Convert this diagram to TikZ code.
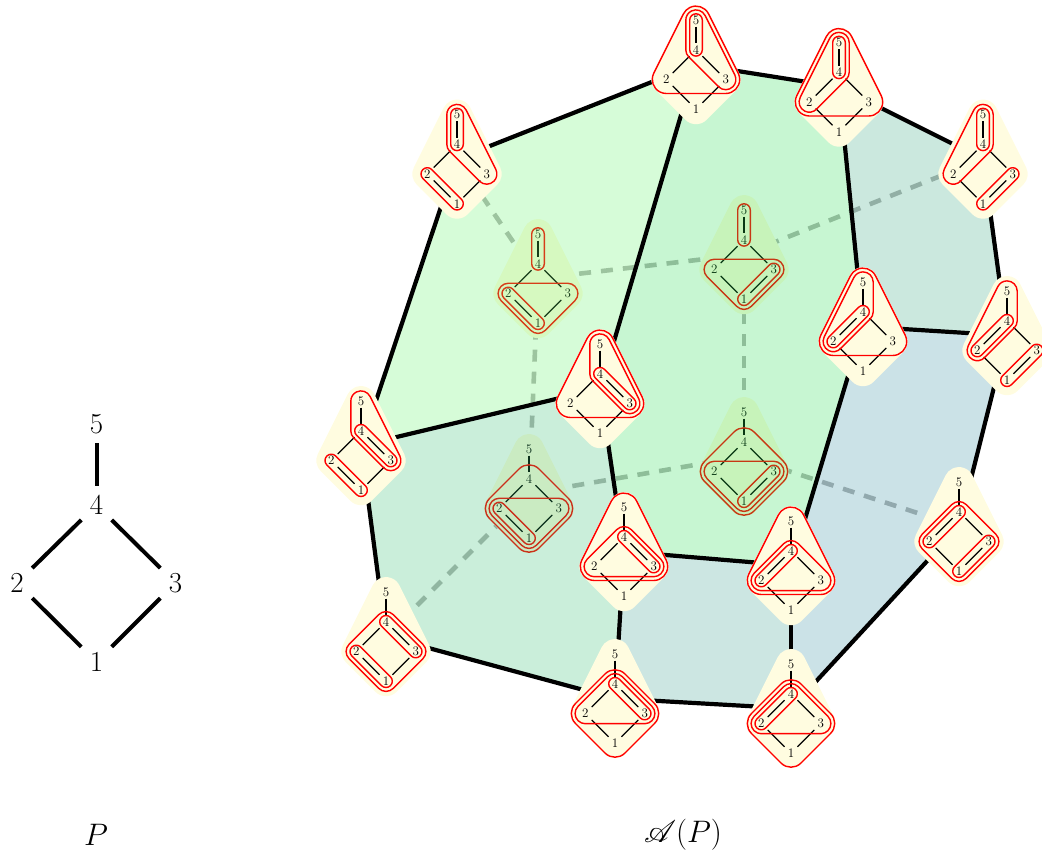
\documentclass[tikz,border=0pt]{standalone}
\usepackage{mathrsfs}
\usetikzlibrary{calc}
\definecolor{bgyellow}{HTML}{FFFCE0}
\definecolor{faceA}{RGB}{92,244,100}
\definecolor{faceB}{RGB}{32,220,76}
\definecolor{faceC}{RGB}{48,164,124}
\definecolor{faceD}{RGB}{48,140,160}
\definecolor{faceE}{RGB}{44,188,108}
\definecolor{faceF}{RGB}{52,156,140}
\definecolor{hiddenline}{HTML}{B4B4B4}
\newcommand\rA{6.3}
\newcommand\rB{10.2}
\newcommand\rC{14}
\newcommand\Vx[4]{($(-#1)+(#3:#2)$) arc[start angle=#3,end angle=#4,radius=#2]}
\newcommand\Ted[1]{\draw[tubeline] \Vx{5}{#1}{0}{180} -- \Vx{4}{#1}{180}{360} -- cycle;}
\newcommand\Tdc[1]{\draw[tubeline] \Vx{4}{#1}{45}{225} -- \Vx{3}{#1}{225}{405} -- cycle;}
\newcommand\Tdb[1]{\draw[tubeline] \Vx{4}{#1}{-45}{135} -- \Vx{2}{#1}{135}{315} -- cycle;}
\newcommand\Tca[1]{\draw[tubeline] \Vx{3}{#1}{-45}{135} -- \Vx{1}{#1}{135}{315} -- cycle;}
\newcommand\Tba[1]{\draw[tubeline] \Vx{2}{#1}{45}{225} -- \Vx{1}{#1}{225}{405} -- cycle;}
\newcommand\Tedc[1]{\draw[tubeline] \Vx{5}{#1}{26.57}{180} -- \Vx{4}{#1}{180}{225} -- \Vx{3}{#1}{225}{386.57} -- cycle;}
\newcommand\Tedb[1]{\draw[tubeline] \Vx{5}{#1}{0}{153.43} -- \Vx{2}{#1}{153.43}{315} -- \Vx{4}{#1}{315}{360} -- cycle;}
\newcommand\Tecb[1]{\draw[tubeline] \Vx{5}{#1}{26.57}{153.43} -- \Vx{2}{#1}{153.43}{270} -- \Vx{3}{#1}{270}{386.57} -- cycle;}
\newcommand\Tdcb[1]{\draw[tubeline] \Vx{4}{#1}{45}{135} -- \Vx{2}{#1}{135}{270} -- \Vx{3}{#1}{270}{405} -- cycle;}
\newcommand\Tcba[1]{\draw[tubeline] \Vx{2}{#1}{90}{225} -- \Vx{1}{#1}{225}{315} -- \Vx{3}{#1}{315}{450} -- cycle;}
\newcommand\Tdcba[1]{\draw[tubeline] \Vx{4}{#1}{45}{135} -- \Vx{2}{#1}{135}{225} -- \Vx{1}{#1}{225}{315} -- \Vx{3}{#1}{315}{405} -- cycle;}
\tikzset{
  x=1pt,y=1pt,
  tubeline/.style={draw=red,line width=1.4pt,line join=round},
  minilabel/.style={inner sep=0pt,minimum width=13pt,minimum height=12.5pt,font=\fontsize{13}{13}\selectfont},
  miniedge/.style={draw=black,line width=1.2pt},
  biglabel/.style={inner sep=0pt,minimum width=30pt,minimum height=38pt,font=\fontsize{29}{29}\selectfont},
  bigedge/.style={draw=black,line width=4pt},
  frontedge/.style={draw=black,line width=4.2pt,line join=round},
  hiddenedge/.style={draw=hiddenline,line width=4.6pt,dash pattern=on 12pt off 10pt},
  face/.style={fill opacity=0.25},
  caption/.style={inner sep=0pt,scale=1.25,font=\fontsize{24}{24}\selectfont},
  minip/.pic={
    \fill[bgyellow] ($(0,-15)+(0,59.4)+(26.57:15)$)
       arc[start angle=26.57,end angle=153.43,radius=15]
       -- ($(0,-15)+(-29.7,0)+(153.43:15)$) arc[start angle=153.43,end angle=225,radius=15]
       -- ($(0,-15)+(0,-29.7)+(225:15)$) arc[start angle=225,end angle=315,radius=15]
       -- ($(0,-15)+(29.7,0)+(315:15)$) arc[start angle=315,end angle=386.57,radius=15] -- cycle;
    \node[minilabel] (-5) at (0,44.4) {5};
    \node[minilabel] (-4) at (0,14.7) {4};
    \node[minilabel] (-2) at (-29.7,-15) {2};
    \node[minilabel] (-3) at (29.7,-15) {3};
    \node[minilabel] (-1) at (0,-44.7) {1};
    \draw[miniedge] (-5)--(-4);
    \draw[miniedge] (-4)--(-2);
    \draw[miniedge] (-4)--(-3);
    \draw[miniedge] (-2)--(-1);
    \draw[miniedge] (-3)--(-1);
    #1
  }
}
\begin{document}
\begin{tikzpicture}[x=1pt,y=1pt]
\useasboundingbox (0,0) rectangle (1042,852);
% polytope vertices
\coordinate (vA) at (696,787.5);
\coordinate (vB) at (839,765);
\coordinate (vC) at (983,693);
\coordinate (vD) at (1007,516.5);
\coordinate (vE) at (457,693);
\coordinate (vF) at (538,573.5);
\coordinate (vG) at (744,597.5);
\coordinate (vH) at (863,525.5);
\coordinate (vI) at (600,463.5);
\coordinate (vJ) at (361,406.5);
\coordinate (vK) at (529,358.5);
\coordinate (vL) at (744,395.5);
\coordinate (vM) at (791,286.5);
\coordinate (vN) at (959,325.5);
\coordinate (vO) at (624,300.5);
\coordinate (vP) at (386,215.5);
\coordinate (vQ) at (615,153.5);
\coordinate (vR) at (791,143.5);
% hidden part
\draw[hiddenedge] (vF)--(vE);
\draw[hiddenedge] (vG)--(vF);
\draw[hiddenedge] (vC)--(vG);
\draw[hiddenedge] (vK)--(vF);
\draw[hiddenedge] (vK)--(vL);
\draw[hiddenedge] (vP)--(vK);
\draw[hiddenedge] (vL)--(vG);
\draw[hiddenedge] (vN)--(vL);
\pic (F) at (vF) {minip={\Ted{\rA}\Tba{\rA}\Tcba{\rB}}};
\pic (G) at (vG) {minip={\Ted{\rA}\Tca{\rA}\Tcba{\rB}}};
\pic (K) at (vK) {minip={\Tba{\rA}\Tcba{\rB}\Tdcba{\rC}}};
\pic (L) at (vL) {minip={\Tca{\rA}\Tcba{\rB}\Tdcba{\rC}}};
% faces
\fill[faceA,face] (vE)--(vA)--(vI)--(vJ)--cycle;
\fill[faceB,face] (vA)--(vB)--(vH)--(vM)--(vO)--(vI)--cycle;
\fill[faceC,face] (vB)--(vC)--(vD)--(vH)--cycle;
\fill[faceD,face] (vH)--(vD)--(vN)--(vR)--(vM)--cycle;
\fill[faceE,face] (vI)--(vO)--(vQ)--(vP)--(vJ)--cycle;
\fill[faceF,face] (vO)--(vM)--(vR)--(vQ)--cycle;
% front edges
\draw[frontedge] (vE)--(vA);
\draw[frontedge] (vA)--(vB);
\draw[frontedge] (vB)--(vC);
\draw[frontedge] (vC)--(vD);
\draw[frontedge] (vD)--(vN);
\draw[frontedge] (vN)--(vR);
\draw[frontedge] (vR)--(vQ);
\draw[frontedge] (vQ)--(vP);
\draw[frontedge] (vP)--(vJ);
\draw[frontedge] (vJ)--(vE);
\draw[frontedge] (vA)--(vI);
\draw[frontedge] (vI)--(vJ);
\draw[frontedge] (vI)--(vO);
\draw[frontedge] (vO)--(vM);
\draw[frontedge] (vO)--(vQ);
\draw[frontedge] (vM)--(vR);
\draw[frontedge] (vM)--(vH);
\draw[frontedge] (vH)--(vD);
\draw[frontedge] (vH)--(vB);
% front posets
\pic (A) at (vA) {minip={\Ted{\rA}\Tedc{\rB}\Tecb{\rC}}};
\pic (B) at (vB) {minip={\Ted{\rA}\Tedb{\rB}\Tecb{\rC}}};
\pic (C) at (vC) {minip={\Ted{\rA}\Tedb{\rB}\Tca{\rA}}};
\pic (D) at (vD) {minip={\Tdb{\rA}\Tedb{\rB}\Tca{\rA}}};
\pic (E) at (vE) {minip={\Ted{\rA}\Tedc{\rB}\Tba{\rA}}};
\pic (H) at (vH) {minip={\Tdb{\rA}\Tedb{\rB}\Tecb{\rC}}};
\pic (I) at (vI) {minip={\Tdc{\rA}\Tedc{\rB}\Tecb{\rC}}};
\pic (J) at (vJ) {minip={\Tdc{\rA}\Tedc{\rB}\Tba{\rA}}};
\pic (M) at (vM) {minip={\Tdb{\rA}\Tdcb{\rB}\Tecb{\rC}}};
\pic (N) at (vN) {minip={\Tdb{\rA}\Tca{\rA}\Tdcba{\rB}}};
\pic (O) at (vO) {minip={\Tdc{\rA}\Tdcb{\rB}\Tecb{\rC}}};
\pic (P) at (vP) {minip={\Tdc{\rA}\Tba{\rA}\Tdcba{\rB}}};
\pic (Q) at (vQ) {minip={\Tdc{\rA}\Tdcb{\rB}\Tdcba{\rC}}};
\pic (R) at (vR) {minip={\Tdb{\rA}\Tdcb{\rB}\Tdcba{\rC}}};
% the poset P
\node[biglabel] (p5) at (96.5,428) {5};
\node[biglabel] (p4) at (96.5,347) {4};
\node[biglabel] (p2) at (17,269) {2};
\node[biglabel] (p3) at (175.5,269) {3};
\node[biglabel] (p1) at (96.5,190) {1};
\draw[bigedge] (p5)--(p4);
\draw[bigedge] (p4)--(p2);
\draw[bigedge] (p4)--(p3);
\draw[bigedge] (p2)--(p1);
\draw[bigedge] (p3)--(p1);
\node[caption] (capP) at (96,17) {$P$};
\node[caption] (capA) at (683,17) {$\mathscr{A}(P)$};
\end{tikzpicture}
\end{document}
